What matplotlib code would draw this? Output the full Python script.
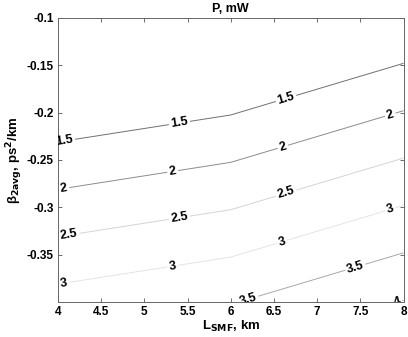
import numpy as np
import matplotlib
matplotlib.use('Agg')
import matplotlib.pyplot as plt

plt.rcParams['font.family'] = ['Liberation Sans', 'DejaVu Sans']

# grid (contours are straight between L = 4, 6, 8)
L_smf = [4, 6, 8]
beta2 = [-0.4, -0.25, -0.1]
# P in mW, rows = beta2, columns = L_smf
P = [[3.19, 3.475, 4.02],
     [1.69, 1.975, 2.52],
     [0.19, 0.475, 1.02]]
levels = [1.5, 2, 2.5, 3, 3.5, 4]
level_colors = ['#707070', '#8c8c8c', '#d4d4d4', '#e4e4e4', '#a8a8a8', '#8a8a8a']

# where the inline labels sit
label_pos = [(4.08, -0.231), (5.41, -0.2135), (6.65, -0.188),
             (7.85, -0.203), (4.07, -0.281), (5.33, -0.263), (6.61, -0.238),
             (4.13, -0.330), (5.41, -0.3135), (6.65, -0.287),
             (7.85, -0.303), (4.07, -0.380), (5.33, -0.363), (6.6, -0.338),
             (6.2, -0.396), (7.44, -0.362),
             (7.9, -0.397)]

fig = plt.figure(figsize=(4.08, 3.37), dpi=100)
ax = fig.add_axes([0.142, 0.105, 0.847, 0.842])

X, Y = np.meshgrid(L_smf, beta2)
cs = ax.contour(X, Y, np.array(P), levels=levels, colors=level_colors, linewidths=0.7)
ax.clabel(cs, levels, inline=True, fontsize=9, fmt='%g', colors='k',
          manual=label_pos, inline_spacing=2)
for t in cs.labelTexts:
    t.set_fontweight('bold')

ax.set_xlim(4, 8)
ax.set_ylim(-0.3995, -0.1)
ax.set_xticks(np.arange(4, 8.01, 0.5))
ax.set_xticklabels(['4', '4.5', '5', '5.5', '6', '6.5', '7', '7.5', '8'])
ax.set_yticks([-0.35, -0.3, -0.25, -0.2, -0.15, -0.1])
ax.set_yticklabels(['-0.35', '-0.3', '-0.25', '-0.2', '-0.15', '-0.1'])
ax.tick_params(direction='in', top=True, right=True, length=3, width=0.6,
               labelsize=8.5, pad=3, colors='#555555', labelcolor='k')
for lab in ax.get_xticklabels() + ax.get_yticklabels():
    lab.set_fontweight('bold')
for s in ax.spines.values():
    s.set_linewidth(0.7)
    s.set_color('#666666')

ax.set_title('P, mW', fontsize=9, fontweight='bold', pad=4)
ax.set_xlabel(r'L$_{\mathbf{SMF}}$, km', fontsize=9.5, fontweight='bold', labelpad=1)
ax.set_ylabel(r'β$_{\mathbf{2avg}}$, ps$^{\mathbf{2}}$/km', fontsize=9.5, fontweight='bold', labelpad=1)

fig.savefig('out.png', dpi=100)
